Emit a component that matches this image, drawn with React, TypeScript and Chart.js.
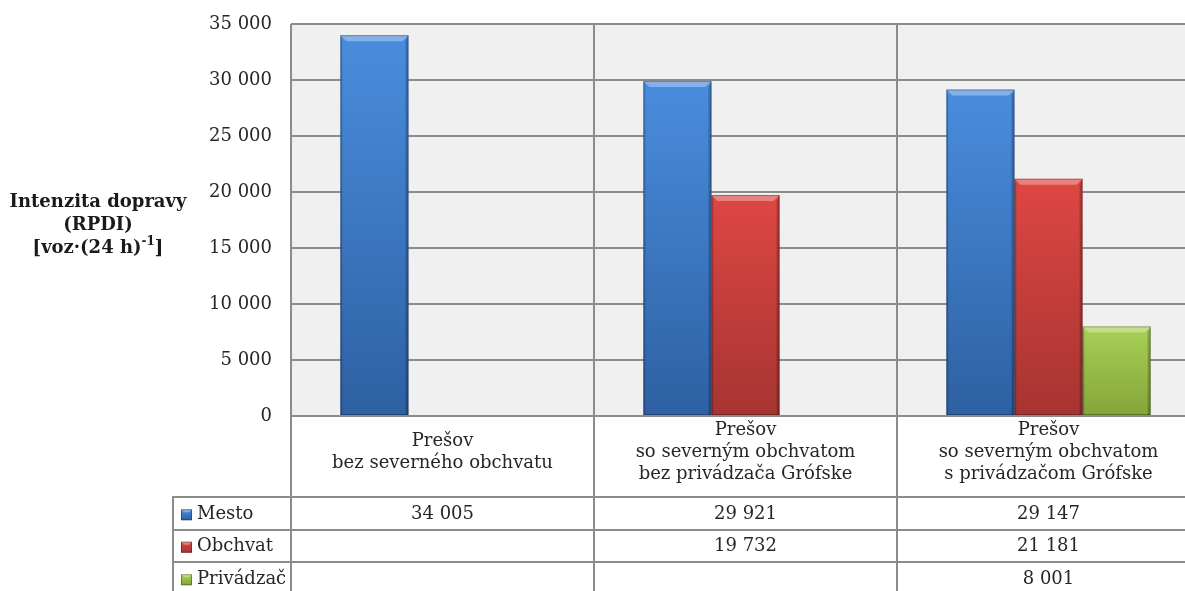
import React, { useEffect, useRef } from 'react';
import { Chart, registerables } from 'chart.js';

Chart.register(...registerables);

// Scenario categories (multi-line labels shown in the data table)
const categories: string[][] = [
  ['Prešov', 'bez severného obchvatu'],
  ['Prešov', 'so severným obchvatom', 'bez privádzača Grófske'],
  ['Prešov', 'so severným obchvatom', 's privádzačom Grófske'],
];

// Series
const seriesNames = ['Mesto', 'Obchvat', 'Privádzač'];
const mesto: (number | null)[] = [34005, 29921, 29147];
const obchvat: (number | null)[] = [null, 19732, 21181];
const privadzac: (number | null)[] = [null, null, 8001];

// Value axis
const yMin = 0;
const yMax = 35000;
const yStep = 5000;

// Axis title
const axisTitleLines = ['Intenzita dopravy', '(RPDI)'];
const axisUnitBase = '[voz·(24 h)';
const axisUnitSup = '-1';
const axisUnitTail = ']';

const seriesTop = ['#4a8ddd', '#de4743', '#a8d055'];
const seriesBottom = ['#2e60a2', '#a63431', '#84a53a'];

const FONT = '"DejaVu Serif", "Liberation Serif", serif';
const TEXT = '#262626';
const GRID = '#8c8c8c';
const PLOT_BG = '#f0f0f0';

const fmt = (v: number) => String(v).replace(/\B(?=(\d{3})+(?!\d))/g, ' ');

function barGradient(ctx: any, i: number) {
  const chart = ctx.chart;
  const ys = chart.scales?.y;
  const raw = ctx.raw;
  if (!ys || raw == null) return seriesTop[i];
  const top = ys.getPixelForValue(raw);
  const bottom = ys.getPixelForValue(0);
  if (!isFinite(top) || !isFinite(bottom) || top === bottom) return seriesTop[i];
  const g = chart.ctx.createLinearGradient(0, top, 0, bottom);
  g.addColorStop(0, seriesTop[i]);
  g.addColorStop(1, seriesBottom[i]);
  return g;
}

function drawMarker(c: CanvasRenderingContext2D, x: number, y: number, s: number, i: number) {
  const g = c.createLinearGradient(0, y, 0, y + s);
  g.addColorStop(0, seriesTop[i]);
  g.addColorStop(1, seriesBottom[i]);
  c.fillStyle = g;
  c.fillRect(x, y, s, s);
  c.fillStyle = 'rgba(255,255,255,0.35)';
  c.beginPath();
  c.moveTo(x, y);
  c.lineTo(x + s, y);
  c.lineTo(x + s - 3, y + 3);
  c.lineTo(x + 3, y + 3);
  c.closePath();
  c.fill();
  c.strokeStyle = 'rgba(0,0,0,0.3)';
  c.lineWidth = 1;
  c.strokeRect(x + 0.5, y + 0.5, s - 1, s - 1);
}

const tablePlugin = {
  id: 'dataTable',
  beforeDraw(chart: any) {
    const { ctx, chartArea: a } = chart;
    ctx.save();
    ctx.fillStyle = '#ffffff';
    ctx.fillRect(0, 0, chart.width, chart.height);
    ctx.fillStyle = PLOT_BG;
    ctx.fillRect(a.left, a.top, a.right - a.left, a.bottom - a.top);
    ctx.restore();
  },
  afterDatasetsDraw(chart: any) {
    const c: CanvasRenderingContext2D = chart.ctx;
    c.save();
    chart.data.datasets.forEach((ds: any, i: number) => {
      const meta = chart.getDatasetMeta(i);
      meta.data.forEach((bar: any, j: number) => {
        if (ds.data[j] == null) return;
        const { x, y, base, width } = bar.getProps(['x', 'y', 'base', 'width'], true);
        const l = x - width / 2;
        const r = x + width / 2;
        const b = 6;
        // top bevel
        c.fillStyle = 'rgba(255,255,255,0.32)';
        c.beginPath();
        c.moveTo(l, y);
        c.lineTo(r, y);
        c.lineTo(r - b, y + b);
        c.lineTo(l + b, y + b);
        c.closePath();
        c.fill();
        // right edge shade
        c.fillStyle = 'rgba(0,0,0,0.2)';
        c.beginPath();
        c.moveTo(r, y);
        c.lineTo(r - 3, y + b);
        c.lineTo(r - 3, base);
        c.lineTo(r, base);
        c.closePath();
        c.fill();
        // left edge shade
        c.fillStyle = 'rgba(0,0,0,0.12)';
        c.beginPath();
        c.moveTo(l, y);
        c.lineTo(l + 2, y + b);
        c.lineTo(l + 2, base);
        c.lineTo(l, base);
        c.closePath();
        c.fill();
        c.strokeStyle = 'rgba(0,0,0,0.28)';
        c.lineWidth = 1;
        c.strokeRect(l + 0.5, y + 0.5, width - 1, base - y - 1);
      });
    });
    c.restore();
  },
  afterDraw(chart: any) {
    const c: CanvasRenderingContext2D = chart.ctx;
    const a = chart.chartArea;
    const xs = chart.scales.x;
    const n = categories.length;
    const cw = (xs.right - xs.left) / n;
    const bottomEdge = chart.height + 4;
    const tableLeft = 173;
    const labelRowBottom = a.bottom + 81;
    const rowH = 32.5;
    c.save();

    // grid of the data table
    c.strokeStyle = GRID;
    c.lineWidth = 2;
    c.beginPath();
    for (let k = 0; k <= n; k++) {
      const px = Math.round(xs.left + k * cw);
      c.moveTo(px, a.bottom);
      c.lineTo(px, bottomEdge);
    }
    c.moveTo(tableLeft, labelRowBottom);
    c.lineTo(tableLeft, bottomEdge);
    for (let r = 0; r <= seriesNames.length; r++) {
      const py = Math.round(labelRowBottom + r * rowH);
      c.moveTo(tableLeft - 1, py);
      c.lineTo(xs.right + 1, py);
    }
    c.stroke();

    // category labels
    c.fillStyle = TEXT;
    c.font = `18px ${FONT}`;
    c.textAlign = 'center';
    c.textBaseline = 'middle';
    const lh = 22;
    const labelMid = a.bottom + 36;
    categories.forEach((lines, j) => {
      const cx = xs.getPixelForValue(j);
      const y0 = labelMid - ((lines.length - 1) * lh) / 2;
      lines.forEach((t, k) => c.fillText(t, cx, y0 + k * lh));
    });

    // series rows
    const rows = [mesto, obchvat, privadzac];
    rows.forEach((vals, r) => {
      const cy = labelRowBottom + r * rowH + rowH / 2 + 1;
      drawMarker(c, 181, cy - 5, 11, r);
      c.fillStyle = TEXT;
      c.textAlign = 'left';
      c.fillText(seriesNames[r], 197, cy);
      c.textAlign = 'center';
      vals.forEach((v, j) => {
        if (v == null) return;
        c.fillText(fmt(v), xs.getPixelForValue(j), cy);
      });
    });

    // value axis title
    const tx = 98;
    const midY = 225;
    const tlh = 23;
    c.fillStyle = '#1a1a1a';
    c.font = `bold 18px ${FONT}`;
    c.textAlign = 'center';
    axisTitleLines.forEach((t, k) => c.fillText(t, tx, midY - tlh + k * tlh));
    const wBase = c.measureText(axisUnitBase).width;
    const wTail = c.measureText(axisUnitTail).width;
    c.font = `bold 12px ${FONT}`;
    const wSup = c.measureText(axisUnitSup).width;
    let sx = tx - (wBase + wSup + wTail) / 2;
    const uy = midY + tlh;
    c.textAlign = 'left';
    c.font = `bold 18px ${FONT}`;
    c.fillText(axisUnitBase, sx, uy);
    sx += wBase;
    c.font = `bold 12px ${FONT}`;
    c.fillText(axisUnitSup, sx, uy - 6);
    sx += wSup;
    c.font = `bold 18px ${FONT}`;
    c.fillText(axisUnitTail, sx, uy);
    c.restore();
  },
};

export default function App() {
  const ref = useRef<HTMLCanvasElement>(null);
  useEffect(() => {
    if (!ref.current) return;
    const series = [mesto, obchvat, privadzac];
    const chart = new Chart(ref.current, {
      type: 'bar',
      data: {
        labels: categories.map((c) => c.join(' ')),
        datasets: series.map((d, i) => ({
          label: seriesNames[i],
          data: d,
          backgroundColor: (ctx: any) => barGradient(ctx, i),
          borderWidth: 0,
          categoryPercentage: 0.674,
          barPercentage: 1,
        })),
      },
      options: {
        responsive: false,
        animation: false,
        devicePixelRatio: 1,
        layout: { padding: { left: 0, top: 24, right: 10, bottom: 175 }, autoPadding: false },
        plugins: { legend: { display: false }, tooltip: { enabled: false } },
        scales: {
          x: {
            grid: { color: GRID, lineWidth: 2, offset: true, drawTicks: false },
            border: { display: false },
            ticks: { display: false },
            afterFit: (s: any) => {
              s.height = 0;
              s.paddingLeft = 0;
              s.paddingRight = 0;
            },
          },
          y: {
            min: yMin,
            max: yMax,
            ticks: {
              stepSize: yStep,
              callback: (v: any) => fmt(Number(v)),
              font: { family: FONT, size: 18 },
              color: TEXT,
              padding: 19,
            },
            grid: { color: GRID, lineWidth: 2, drawTicks: false },
            border: { display: false },
            afterFit: (s: any) => {
              s.width = 291;
              s.paddingTop = 0;
              s.paddingBottom = 0;
            },
          },
        },
      },
      plugins: [tablePlugin],
    } as any);
    return () => chart.destroy();
  }, []);
  return (
    <div
      style={{
        position: 'fixed',
        left: 0,
        top: 0,
        width: 1185,
        height: 591,
        overflow: 'hidden',
        background: '#fff',
      }}
    >
      <canvas ref={ref} width={1210} height={591} style={{ display: 'block' }} />
    </div>
  );
}
